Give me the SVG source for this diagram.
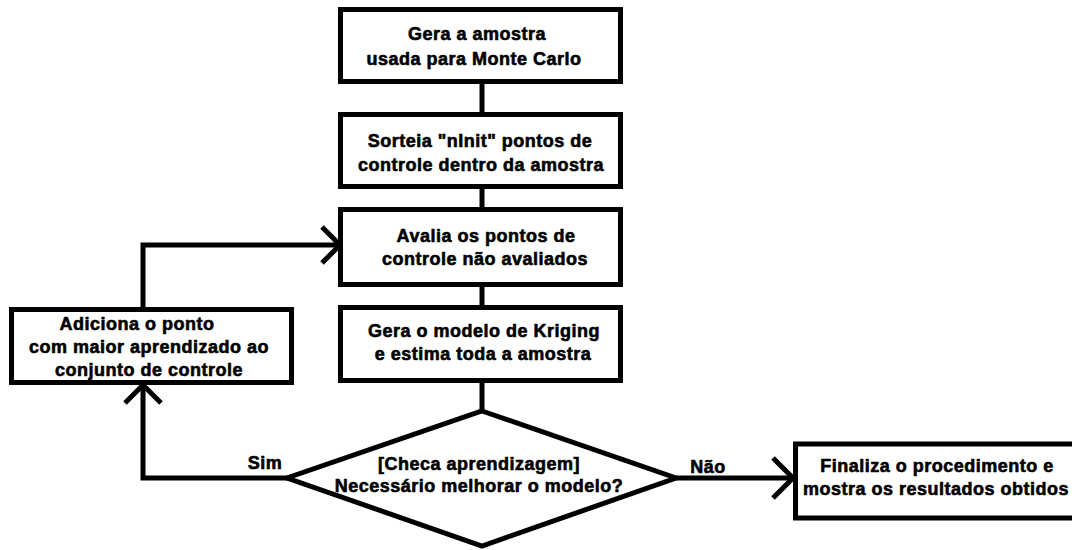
<svg xmlns="http://www.w3.org/2000/svg" width="1072" height="550" viewBox="0 0 1072 550">
<style>
.box{fill:#fff;stroke:#000;stroke-width:5}
.ln{fill:none;stroke:#000;stroke-width:5}
text{font-family:"Liberation Sans",Arial,sans-serif;font-weight:bold;font-size:18px;letter-spacing:0.5px;fill:#000;text-anchor:middle;stroke:#000;stroke-width:0.6;stroke-linejoin:round}
</style>
<rect width="1072" height="550" fill="#fff"/>
<g id="connectors">
<line class="ln" x1="482" y1="81" x2="482" y2="115"/>
<line class="ln" x1="482" y1="186" x2="482" y2="210"/>
<line class="ln" x1="482" y1="284" x2="482" y2="308"/>
<line class="ln" x1="482" y1="380" x2="482" y2="412"/>
<polyline class="ln" points="143,309 143,245 338,245"/>
<polyline class="ln" points="322,227 340,245 322,263"/>
<polyline class="ln" points="288,478 143,478 143,385"/>
<polyline class="ln" points="125,403 143,385 161,403"/>
<line class="ln" x1="676" y1="478" x2="793" y2="478"/>
<polyline class="ln" points="773,458 793,478 773,498"/>
<text x="265" y="469">Sim</text>
<text x="708" y="473">Não</text>
</g>
<g id="n1">
<rect class="box" x="340.5" y="9.5" width="280" height="72"/>
<text x="477" y="40">Gera a amostra</text>
<text x="474" y="65">usada para Monte Carlo</text>
</g>
<g id="n2">
<rect class="box" x="340.5" y="114.5" width="280" height="72"/>
<text x="480" y="147">Sorteia "nInit" pontos de</text>
<text x="481" y="171">controle dentro da amostra</text>
</g>
<g id="n3">
<rect class="box" x="340.5" y="209.5" width="280" height="75"/>
<text x="486" y="242">Avalia os pontos de</text>
<text x="485" y="265">controle não avaliados</text>
</g>
<g id="n4">
<rect class="box" x="340.5" y="307.5" width="280" height="73"/>
<text x="484" y="337">Gera o modelo de Kriging</text>
<text x="483" y="360">e estima toda a amostra</text>
</g>
<g id="n5">
<rect class="box" x="11.5" y="309.5" width="280" height="73"/>
<text x="137" y="330">Adiciona o ponto</text>
<text x="149" y="353">com maior aprendizado ao</text>
<text x="149" y="376">conjunto de controle</text>
</g>
<g id="n6">
<polygon class="box" points="482,411 676,478 482,546 287,478"/>
<text x="479" y="470">[Checa aprendizagem]</text>
<text x="479" y="492">Necessário melhorar o modelo?</text>
</g>
<g id="n7">
<rect class="box" x="795.5" y="444" width="290" height="74"/>
<text x="937" y="472">Finaliza o procedimento e</text>
<text x="936" y="495">mostra os resultados obtidos</text>
</g>
</svg>
